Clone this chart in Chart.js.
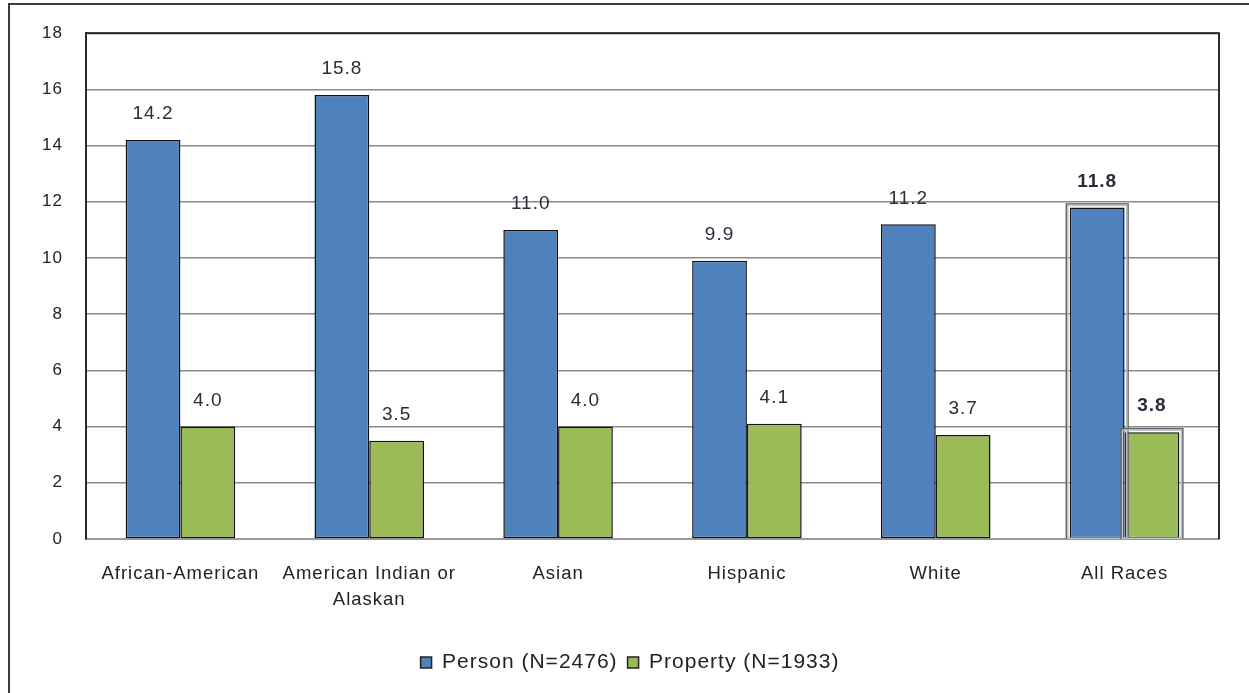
<!DOCTYPE html>
<html>
<head>
<meta charset="utf-8">
<script src="https://cdn.jsdelivr.net/npm/chart.js@4/dist/chart.umd.min.js"></script>
<style>
  html, body { margin: 0; padding: 0; background: #fff; }
  #wrap { position: relative; width: 1249px; height: 693px; overflow: hidden; }
  #frame { position: absolute; left: 8px; top: 3px; width: 1300px; height: 800px;
           border-left: 2px solid #3a3a3a; border-top: 2px solid #3a3a3a; }
  canvas { position: absolute; left: 0; top: 0; }
</style>
</head>
<body>
<div id="wrap">
  <div id="frame"></div>
  <canvas id="chart" width="1249" height="693"></canvas>
</div>
<script>
// ── Data ──────────────────────────────────────────────────
const categories = ['African-American', ['American Indian or', 'Alaskan'], 'Asian', 'Hispanic', 'White', 'All Races'];
const person     = [14.2, 15.8, 11.0, 9.9, 11.2, 11.8];
const property   = [4.0, 3.5, 4.0, 4.1, 3.7, 3.8];
const yTicks     = [0, 2, 4, 6, 8, 10, 12, 14, 16, 18];

const FONT = "'Liberation Sans', Arial, sans-serif";
const TOTAL = categories.length - 1;   // "All Races" gets the emphasized look

// ── Plugins ───────────────────────────────────────────────
// old excel export: text is a little spread out
const spacing = {
  id: 'spacing',
  beforeLayout(chart) { chart.ctx.letterSpacing = '1px'; },
  beforeDraw(chart)   { chart.ctx.letterSpacing = '1px'; }
};

const fixedAxes = {
  id: 'fixedAxes',
  beforeInit(chart) {
    chart.options.scales.y.afterFit = s => { s.width = 45; };
    chart.options.scales.x.afterFit = s => { s.height = 103; };
  }
};

const frameAndLabels = {
  id: 'frameAndLabels',
  afterDatasetsDraw(chart) {
    const { ctx, chartArea: a } = chart;
    ctx.save();
    // top + right border of the plot
    ctx.strokeStyle = '#2a2a2a';
    ctx.lineWidth = 2;
    ctx.beginPath();
    ctx.moveTo(a.left, a.top);
    ctx.lineTo(a.right, a.top);
    ctx.lineTo(a.right, a.bottom);
    ctx.stroke();

    chart.data.datasets.forEach((ds, di) => {
      chart.getDatasetMeta(di).data.forEach((bar, i) => {
        const bold = i === TOTAL;
        if (bold) {
          // double outline on the total bars
          const w = bar.width;
          ctx.strokeStyle = '#666';
          ctx.lineWidth = 1.5;
          ctx.strokeRect(bar.x - w / 2 - 3.5, bar.y - 3.5, w + 7, bar.base - bar.y + 3.5);
          ctx.strokeStyle = '#b8c4d0';
          ctx.lineWidth = 1.5;
          ctx.strokeRect(bar.x - w / 2 - 2, bar.y - 2, w + 4, bar.base - bar.y + 2);
        }
        ctx.fillStyle = '#2b2b3a';
        ctx.font = (bold ? 'bold ' : '') + '19px ' + FONT;
        ctx.textAlign = 'center';
        ctx.textBaseline = 'middle';
        ctx.fillText(ds.data[i].toFixed(1), bar.x, bar.y - 26);
      });
    });
    ctx.restore();
  }
};

// ── Chart ─────────────────────────────────────────────────
new Chart(document.getElementById('chart'), {
  type: 'bar',
  data: {
    labels: categories,
    datasets: [
      {
        label: 'Person (N=2476)',
        data: person,
        backgroundColor: '#4F81BD',
        borderColor: '#111',
        borderWidth: 1.5,
        borderSkipped: false,
      },
      {
        label: 'Property (N=1933)',
        data: property,
        backgroundColor: '#9BBB59',
        borderColor: '#111',
        borderWidth: 1.5,
        borderSkipped: false,
      }
    ]
  },
  options: {
    responsive: false,
    animation: false,
    devicePixelRatio: 1,
    layout: { padding: { left: 41, right: 30, top: 33, bottom: 10 } },
    datasets: { bar: { barPercentage: 1, categoryPercentage: 0.58 } },
    plugins: {
      tooltip: { enabled: false },
      legend: {
        position: 'bottom',
        labels: {
          color: '#222',
          font: { family: FONT, size: 21 },
          boxWidth: 11,
          boxHeight: 11,
          padding: 10,
          generateLabels: chart => chart.data.datasets.map((ds, i) => ({
            text: ds.label,
            fillStyle: ds.backgroundColor,
            strokeStyle: '#222',
            lineWidth: 1.5,
            datasetIndex: i,
            fontColor: '#222',
          }))
        }
      }
    },
    scales: {
      x: {
        grid: { display: false, drawTicks: false },
        border: { color: '#999', width: 2 },
        ticks: { color: '#222', font: { family: FONT, size: 18.5, lineHeight: 1.4 }, padding: 22, maxRotation: 0, autoSkip: false }
      },
      y: {
        min: 0,
        max: 18,
        afterBuildTicks: s => { s.ticks = yTicks.map(v => ({ value: v })); },
        grid: {
          color: '#8a8a8a',
          lineWidth: 1.5,
          drawTicks: false,
        },
        border: { color: '#2a2a2a', width: 2 },
        ticks: { color: '#222', font: { family: FONT, size: 17 }, padding: 23 }
      }
    }
  },
  plugins: [spacing, fixedAxes, frameAndLabels]
});
</script>
</body>
</html>
